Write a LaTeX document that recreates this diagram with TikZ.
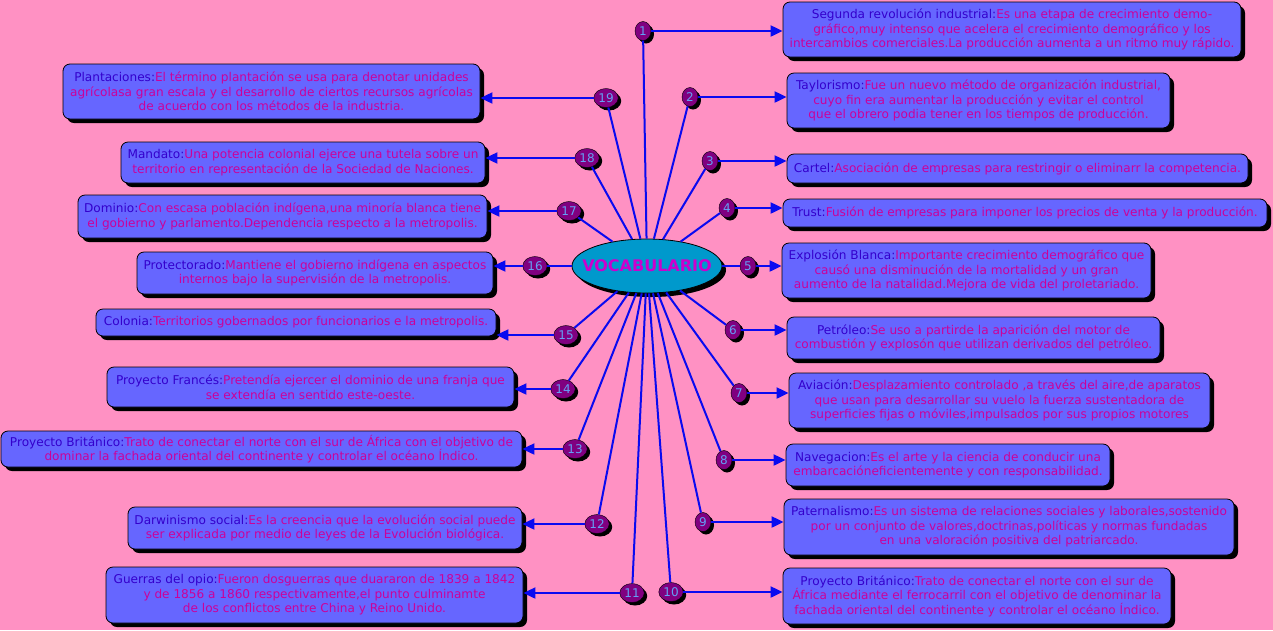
\documentclass[tikz,border=0pt]{standalone}
\usepackage{fontspec}
\setmainfont{DejaVu Sans}
\usetikzlibrary{shapes.geometric,shadows,arrows.meta}
\definecolor{bgpink}{RGB}{255,145,195}
\definecolor{boxfill}{RGB}{102,102,255}
\definecolor{kwc}{RGB}{51,0,204}
\definecolor{bodyc}{RGB}{204,0,153}
\definecolor{badgefill}{RGB}{128,0,128}
\definecolor{badgetext}{RGB}{100,160,245}
\definecolor{ovalfill}{RGB}{0,153,204}
\definecolor{ovaltext}{RGB}{204,0,204}
\definecolor{linec}{RGB}{10,10,240}
\newcommand\kw[1]{\textcolor{kwc}{#1}}
\begin{document}
\begin{tikzpicture}[x=1pt,y=-1pt,
  card/.style={draw=black, line width=0.8pt, fill=boxfill, rounded corners=7pt,
    general shadow={fill=black, shadow xshift=4pt, shadow yshift=-4pt},
    inner sep=0pt, align=center, text=bodyc,
    font=\fontsize{12.1}{14.5}\selectfont},
  badge/.style={ellipse, draw=black, line width=0.4pt, fill=badgefill,
    general shadow={fill=black, shadow xshift=3pt, shadow yshift=-3pt},
    inner xsep=1pt, inner ysep=0pt, minimum width=16pt, minimum height=19pt,
    text=badgetext, font=\fontsize{12}{14}\selectfont},
  hub/.style={ellipse, draw=black, line width=0.8pt, fill=ovalfill,
    general shadow={fill=black, shadow xshift=4pt, shadow yshift=-4pt},
    minimum width=150pt, minimum height=54pt, inner sep=0pt,
    text=ovaltext, font=\fontsize{16}{18}\selectfont\bfseries},
  spoke/.style={draw=linec, line width=2pt},
  arr/.style={draw=linec, line width=2pt, -{Triangle[length=12pt,width=11pt]}}
]
\useasboundingbox (0,0) rectangle (1273,630);
\fill[bgpink] (0,0) rectangle (1273,630);

% right boxes
\node[card, minimum width=458pt, minimum height=55pt] (n1) at (1012,29.5)
 {\kw{Segunda revolución industrial:}Es una etapa de crecimiento demo-\\gráfico,muy intenso que acelera el crecimiento demográfico y los\\intercambios comerciales.La producción aumenta a un ritmo muy rápido.};
\node[card, minimum width=383pt, minimum height=55pt] (n2) at (978.5,100.5)
 {\kw{Taylorismo:}Fue un nuevo método de organización industrial,\\cuyo fin era aumentar la producción y evitar el control\\que el obrero podia tener en los tiempos de producción.};
\node[card, minimum width=461pt, minimum height=29pt] (n3) at (1017.5,168.5)
 {\kw{Cartel:}Asociación de empresas para restringir o eliminarr la competencia.};
\node[card, minimum width=484pt, minimum height=28pt] (n4) at (1025,213)
 {\kw{Trust:}Fusión de empresas para imponer los precios de venta y la producción.};
\node[card, minimum width=369pt, minimum height=55pt] (n5) at (966.5,270.5)
 {\kw{Explosión Blanca:}Importante crecimiento demográfico que\\causó una disminución de la mortalidad y un gran\\aumento de la natalidad.Mejora de vida del proletariado.};
\node[card, minimum width=373pt, minimum height=42pt] (n6) at (973.5,338)
 {\kw{Petróleo:}Se uso a partirde la aparición del motor de\\combustión y explosón que utilizan derivados del petróleo.};
\node[card, minimum width=421pt, minimum height=55pt] (n7) at (999.5,400.5)
 {\kw{Aviación:}Desplazamiento controlado ,a través del aire,de aparatos\\que usan para desarrollar su vuelo la fuerza sustentadora de\\superficies fijas o móviles,impulsados por sus propios motores};
\node[card, minimum width=324pt, minimum height=42pt] (n8) at (948,465)
 {\kw{Navegacion:}Es el arte y la ciencia de conducir una\\embarcacióneficientemente y con responsabilidad.};
\node[card, minimum width=450pt, minimum height=56pt] (n9) at (1009,527)
 {\kw{Paternalismo:}Es un sistema de relaciones sociales y laborales,sostenido\\por un conjunto de valores,doctrinas,políticas y normas fundadas\\en una valoración positiva del patriarcado.};
\node[card, minimum width=388pt, minimum height=56pt] (n10) at (977,596)
 {\kw{Proyecto Británico:}Trato de conectar el norte con el sur de\\África mediante el ferrocarril con el objetivo de denominar la\\fachada oriental del continente y controlar el océano Índico.};

% left boxes
\node[card, minimum width=417pt, minimum height=56pt] (n11) at (314.5,595)
 {\kw{Guerras del opio:}Fueron dosguerras que duararon de 1839 a 1842\\y de 1856 a 1860 respectivamente,el punto culminamte\\de los conflictos entre China y Reino Unido.};
\node[card, minimum width=394pt, minimum height=42pt] (n12) at (325,528)
 {\kw{Darwinismo social:}Es la creencia que la evolución social puede\\ser explicada por medio de leyes de la Evolución biológica.};
\node[card, minimum width=521pt, minimum height=36pt] (n13) at (261.5,449)
 {\kw{Proyecto Británico:}Trato de conectar el norte con el sur de África con el objetivo de\\dominar la fachada oriental del continente y controlar el océano Índico.};
\node[card, minimum width=407pt, minimum height=40pt] (n14) at (310.5,387)
 {\kw{Proyecto Francés:}Pretendía ejercer el dominio de una franja que\\se extendía en sentido este-oeste.};
\node[card, minimum width=400pt, minimum height=27pt] (n15) at (296,322.5)
 {\kw{Colonia:}Territorios gobernados por funcionarios e la metropolis.};
\node[card, minimum width=356pt, minimum height=42pt] (n16) at (315,273)
 {\kw{Protectorado:}Mantiene el gobierno indígena en aspectos\\internos bajo la supervisión de la metropolis.};
\node[card, minimum width=409pt, minimum height=43pt] (n17) at (282.5,216.5)
 {\kw{Dominio:}Con escasa población indígena,una minoría blanca tiene\\el gobierno y parlamento.Dependencia respecto a la metropolis.};
\node[card, minimum width=364pt, minimum height=41pt] (n18) at (303,162.5)
 {\kw{Mandato:}Una potencia colonial ejerce una tutela sobre un\\territorio en representación de la Sociedad de Naciones.};
\node[card, minimum width=417pt, minimum height=55pt] (n19) at (271.5,91.5)
 {\kw{Plantaciones:}El término plantación se usa para denotar unidades\\agrícolasa gran escala y el desarrollo de ciertos recursos agrícolas\\de acuerdo con los métodos de la industria.};

% hub
\node[hub] (c) at (647,266) {\makebox[0pt]{VOCABULARIO}};

% badges
\node[badge] (b1) at (643,31) {1};
\node[badge] (b2) at (690,97) {2};
\node[badge] (b3) at (710,161) {3};
\node[badge] (b4) at (727,208) {4};
\node[badge] (b5) at (748,266) {5};
\node[badge] (b6) at (733,330) {6};
\node[badge] (b7) at (739,393) {7};
\node[badge] (b8) at (724,460) {8};
\node[badge] (b9) at (703,522) {9};
\node[badge] (b10) at (671,592) {10};
\node[badge] (b11) at (632,593) {11};
\node[badge] (b12) at (597,524) {12};
\node[badge] (b13) at (575,449) {13};
\node[badge] (b14) at (563,389) {14};
\node[badge] (b15) at (566,335) {15};
\node[badge] (b16) at (535,266) {16};
\node[badge] (b17) at (569,211) {17};
\node[badge] (b18) at (587,158) {18};
\node[badge] (b19) at (606,98) {19};

% spokes
\foreach \i in {1,...,19} { \draw[spoke] (c) -- (b\i); }

% arrows right
\foreach \i in {1,...,10} { \draw[arr] (b\i.east) -- (b\i.east -| n\i.west); }
% arrows left
\foreach \i in {11,...,19} { \draw[arr] (b\i.west) -- (b\i.west -| n\i.east); }
\end{tikzpicture}
\end{document}
